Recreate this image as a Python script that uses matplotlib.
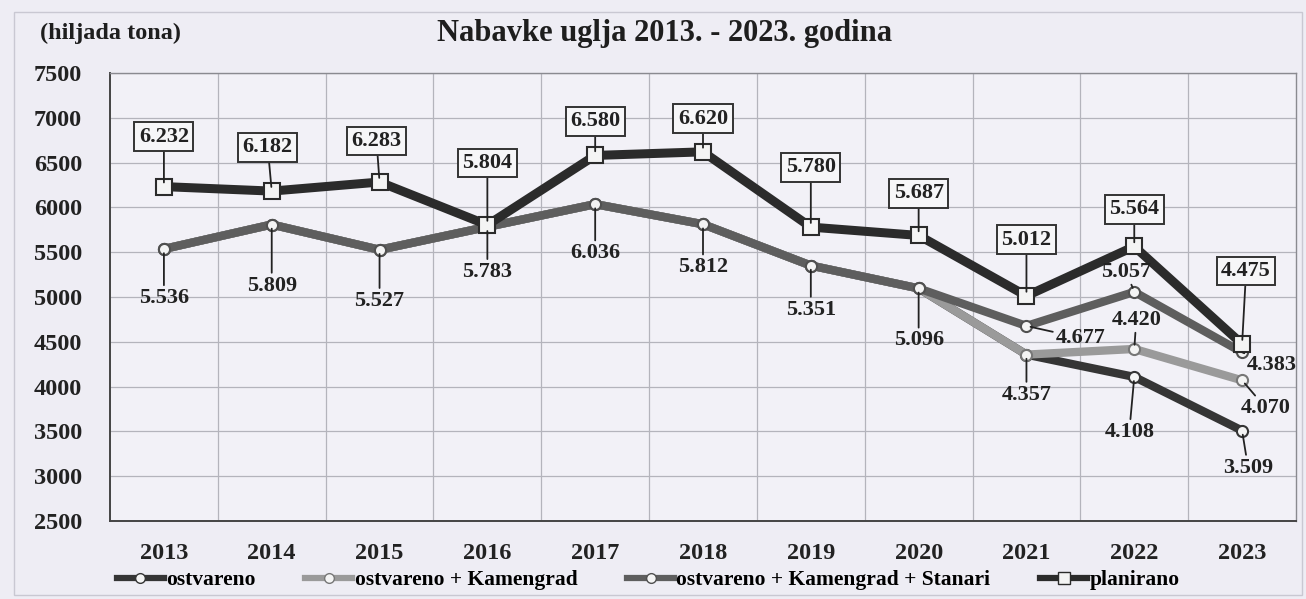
import matplotlib
matplotlib.use("Agg")
import matplotlib.pyplot as plt
from matplotlib.lines import Line2D
from matplotlib.patches import Rectangle

plt.rcParams['font.family'] = ['Liberation Serif', 'DejaVu Serif']
plt.rcParams['font.weight'] = 'bold'

# podaci (hiljada tona)
godine = ['2013', '2014', '2015', '2016', '2017', '2018', '2019', '2020', '2021', '2022', '2023']
ostvareno = [5536, 5809, 5527, 5783, 6036, 5812, 5351, 5096, 4357, 4108, 3509]
ostvareno_kamengrad = [5536, 5809, 5527, 5783, 6036, 5812, 5351, 5096, 4357, 4420, 4070]
ostvareno_kam_stanari = [5536, 5809, 5527, 5783, 6036, 5812, 5351, 5096, 4677, 5057, 4383]
planirano = [6232, 6182, 6283, 5804, 6580, 6620, 5780, 5687, 5012, 5564, 4475]

# pomaci natpisa u pikselima (dx, dy)
pom_plan = [(0, 50), (-4, 44), (-3, 41), (0, 62), (0, 34), (0, 33), (0, 60), (0, 42), (0, 56), (0, 37), (4, 73)]
pom_zaj = [(0, -49), (0, -61), (0, -51), (0, -45), (0, -49), (0, -43), (0, -44), (0, -52)]

pozadina = '#eeedf4'
fig = plt.figure(figsize=(13.06, 5.99), dpi=100, facecolor=pozadina)
ax = fig.add_axes([110/1306, 78/599, 1186/1306, 448/599])
ax.set_facecolor('#f2f1f7')

x = list(range(len(godine)))

ax.plot(x, ostvareno, color='#353535', lw=6, marker='o', ms=8, mfc='#f4f4f4', mec='#353535', mew=1.5, zorder=3)
ax.plot(x, ostvareno_kamengrad, color='#9a9a9a', lw=6, marker='o', ms=8, mfc='#f4f4f4', mec='#777777', mew=1.5, zorder=4)
ax.plot(x, ostvareno_kam_stanari, color='#5e5e5e', lw=6, marker='o', ms=8, mfc='#f4f4f4', mec='#505050', mew=1.5, zorder=5)
ax.plot(x, planirano, color='#2b2b2b', lw=6.5, marker='s', ms=11, mfc='#f4f4f4', mec='#2b2b2b', mew=1.5, zorder=6)

def fmt(v):
    return '%d.%03d' % (v // 1000, v % 1000)

lead = dict(arrowstyle='-', color='#222222', lw=1.3, shrinkA=0, shrinkB=3)
fs = 16

for i, v in enumerate(planirano):
    dx, dy = pom_plan[i]
    ax.annotate(fmt(v), xy=(i, v), xytext=(dx, dy), textcoords='offset pixels',
                ha='center', va='center', fontsize=fs, color='#222222',
                bbox=dict(boxstyle='square,pad=0.2', fc='#f6f6f8', ec='#333333', lw=1.4),
                arrowprops=lead, zorder=8)

for i in range(8):
    dx, dy = pom_zaj[i]
    ax.annotate(fmt(ostvareno_kam_stanari[i]), xy=(i, ostvareno_kam_stanari[i]), xytext=(dx, dy),
                textcoords='offset pixels', ha='center', va='center', fontsize=fs, color='#222222',
                arrowprops=lead, zorder=7)

# 2021 - 2023
ostali = [
    (ostvareno_kam_stanari, 8, (54, -12)),
    (ostvareno_kam_stanari, 9, (-8, 20)),
    (ostvareno_kam_stanari, 10, (30, -13)),
    (ostvareno_kamengrad, 8, (0, -40)),
    (ostvareno_kamengrad, 9, (2, 29)),
    (ostvareno_kamengrad, 10, (24, -28)),
    (ostvareno, 9, (-5, -55)),
    (ostvareno, 10, (6, -37)),
]
for serija, i, (dx, dy) in ostali:
    ax.annotate(fmt(serija[i]), xy=(i, serija[i]), xytext=(dx, dy), textcoords='offset pixels',
                ha='center', va='center', fontsize=fs, color='#222222',
                arrowprops=lead, zorder=7)

ax.set_xlim(-0.5, len(godine) - 0.5)
ax.set_ylim(2500, 7500)
ax.set_yticks(range(2500, 7501, 500))
ax.set_xticks(x)
ax.set_xticklabels(godine)
ax.set_xticks([i + 0.5 for i in x[:-1]], minor=True)
ax.tick_params(axis='both', which='both', length=0, labelsize=17.5, colors='#222222')
ax.tick_params(axis='y', pad=20)
ax.tick_params(axis='x', pad=16)
ax.grid(True, which='major', axis='y', color='#b4b4bc', lw=0.9)
ax.grid(True, which='minor', axis='x', color='#b4b4bc', lw=0.9)
ax.set_axisbelow(True)
for s in ['left', 'bottom']:
    ax.spines[s].set_color('#444444')
    ax.spines[s].set_linewidth(1.4)
for s in ['top', 'right']:
    ax.spines[s].set_color('#8a8a90')
    ax.spines[s].set_linewidth(1.0)

fig.text(665/1306, 1 - 33/599, 'Nabavke uglja 2013. - 2023. godina', ha='center', va='center',
         fontsize=22, color='#1e1e1e')
fig.text(40/1306, 1 - 33/599, '(hiljada tona)', ha='left', va='center', fontsize=17.5, color='#1e1e1e')

fig.patches.append(Rectangle((14/1306, 4/599), 1288/1306, 583/599, transform=fig.transFigure,
                             fill=False, ec='#c9c8d2', lw=1.0))

handles = [
    Line2D([], [], color='#353535', lw=4.5, marker='o', ms=7, mfc='#f4f4f4', mec='#353535'),
    Line2D([], [], color='#9a9a9a', lw=4.5, marker='o', ms=7, mfc='#f4f4f4', mec='#777777'),
    Line2D([], [], color='#5e5e5e', lw=4.5, marker='o', ms=7, mfc='#f4f4f4', mec='#505050'),
    Line2D([], [], color='#2b2b2b', lw=4.5, marker='s', ms=8, mfc='#f4f4f4', mec='#2b2b2b'),
]
labels = ['ostvareno', 'ostvareno + Kamengrad', 'ostvareno + Kamengrad + Stanari', 'planirano']
fig.legend(handles, labels, loc='center', bbox_to_anchor=(648/1306, 1 - 580/599), ncol=4,
           frameon=False, fontsize=15.5, handlelength=2.2, handletextpad=0.1, columnspacing=2.3)

fig.savefig('out.png', dpi=100, facecolor=fig.get_facecolor())
